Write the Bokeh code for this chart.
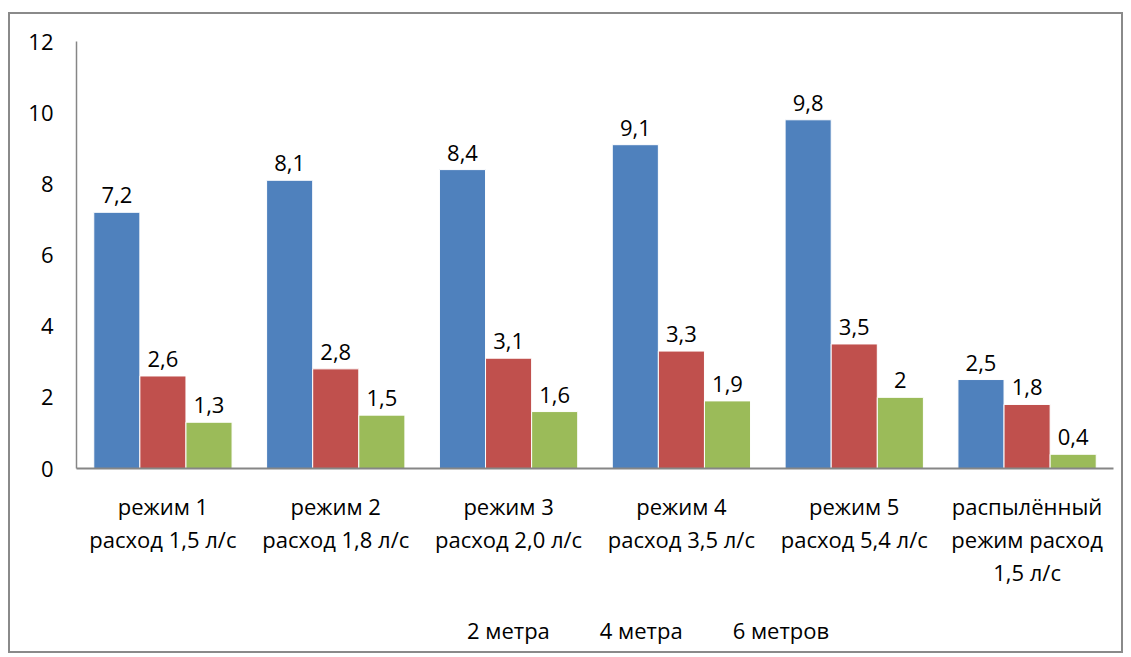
from bokeh.plotting import figure
from bokeh.layouts import column
from bokeh.models import (ColumnDataSource, FactorRange, Range1d, Legend, LegendItem,
                          CategoricalAxis, CustomJSTickFormatter)
from bokeh.transform import dodge
from bokeh.core.properties import value
from bokeh.embed import file_html
from bokeh.resources import INLINE

categories = ["режим 1\nрасход 1,5 л/с", "режим 2\nрасход 1,8 л/с", "режим 3\nрасход 2,0 л/с",
              "режим 4\nрасход 3,5 л/с", "режим 5\nрасход 5,4 л/с", "распылённый\nрежим расход\n1,5 л/с"]
series_names = ["2 метра", "4 метра", "6 метров"]
s2 = [7.2, 8.1, 8.4, 9.1, 9.8, 2.5]
s4 = [2.6, 2.8, 3.1, 3.3, 3.5, 1.8]
s6 = [1.3, 1.5, 1.6, 1.9, 2.0, 0.4]
colors = ["#4F81BD", "#C0504D", "#9BBB59"]
y_ticks = [0, 2, 4, 6, 8, 10, 12]

def fmt(v):
    s = ("%.1f" % v).rstrip("0").rstrip(".")
    return s.replace(".", ",")

FONT = "Open Sans"
FS = "22px"

p = figure(x_range=FactorRange(*categories, range_padding=0), y_range=Range1d(0, 12),
           frame_width=1037, frame_height=427, output_backend="svg", toolbar_location=None,
           min_border_left=66, min_border_top=27, min_border_right=8, min_border_bottom=0)
p.outline_line_color = None
p.xgrid.grid_line_color = None
p.ygrid.grid_line_color = None

series = [s2, s4, s6]
offsets = [-0.2667, 0.0, 0.2667]
for name, vals, col, off in zip(series_names, series, colors, offsets):
    src = ColumnDataSource(dict(cat=categories, v=vals, lab=[fmt(v) for v in vals]))
    p.vbar(x=dodge("cat", off, range=p.x_range), top="v", width=0.2667, source=src,
           fill_color=col, line_color="white", line_width=1)
    p.text(x=dodge("cat", off, range=p.x_range), y="v", text="lab", source=src,
           text_align="center", text_baseline="alphabetic", y_offset=-17,
           text_font=value(FONT), text_font_size=FS, text_color="#000000")

p.yaxis.ticker = y_ticks
p.yaxis.major_tick_line_color = None
p.yaxis.minor_tick_line_color = None
p.yaxis.axis_line_color = "#868686"
p.yaxis.axis_line_width = 1.5
p.yaxis.major_label_standoff = 17
p.yaxis.major_label_text_font = FONT
p.yaxis.major_label_text_font_size = FS
p.yaxis.major_label_text_color = "#000000"

xaxes = [p.xaxis[0]]
for i in (1, 2):
    ax = CategoricalAxis()
    p.add_layout(ax, "below")
    xaxes.append(ax)
for i, ax in enumerate(xaxes):
    ax.formatter = CustomJSTickFormatter(args=dict(i=i), code="""
        const parts = String(tick).split('\\n');
        return i < parts.length ? parts[i] : ' ';
    """)
    ax.major_tick_line_color = None
    ax.minor_tick_line_color = None
    ax.major_label_text_font = FONT
    ax.major_label_text_font_size = FS
    ax.major_label_text_color = "#000000"
    if i == 0:
        ax.axis_line_color = "#868686"
        ax.axis_line_width = 2
        ax.major_label_standoff = 16
    else:
        ax.axis_line_color = None
        ax.major_label_standoff = -6

# legend strip below the chart
p2 = figure(width=1111, height=62, x_range=Range1d(0, 1), y_range=Range1d(0, 1),
            output_backend="svg", toolbar_location=None, min_border=0)
p2.axis.visible = False
p2.xgrid.grid_line_color = None
p2.ygrid.grid_line_color = None
p2.outline_line_color = None
items = []
for name, col in zip(series_names, colors):
    r = p2.vbar(x=[], top=[], width=0.1, fill_color=col, line_color="white")
    items.append(LegendItem(label=name, renderers=[r]))
legend = Legend(items=items, orientation="horizontal", location=(369, 6),
                label_text_font=FONT, label_text_font_size=FS, label_text_color="#000000",
                glyph_width=14, glyph_height=14, label_standoff=8, spacing=28,
                border_line_color=None, background_fill_alpha=0, margin=0, padding=4)
p2.add_layout(legend, "center")

layout = column(p, p2, spacing=0, margin=(12, 0, 0, 8),
                styles={"border": "2px solid #8a8a8a"})

open("out.html", "w").write(file_html(layout, INLINE))
